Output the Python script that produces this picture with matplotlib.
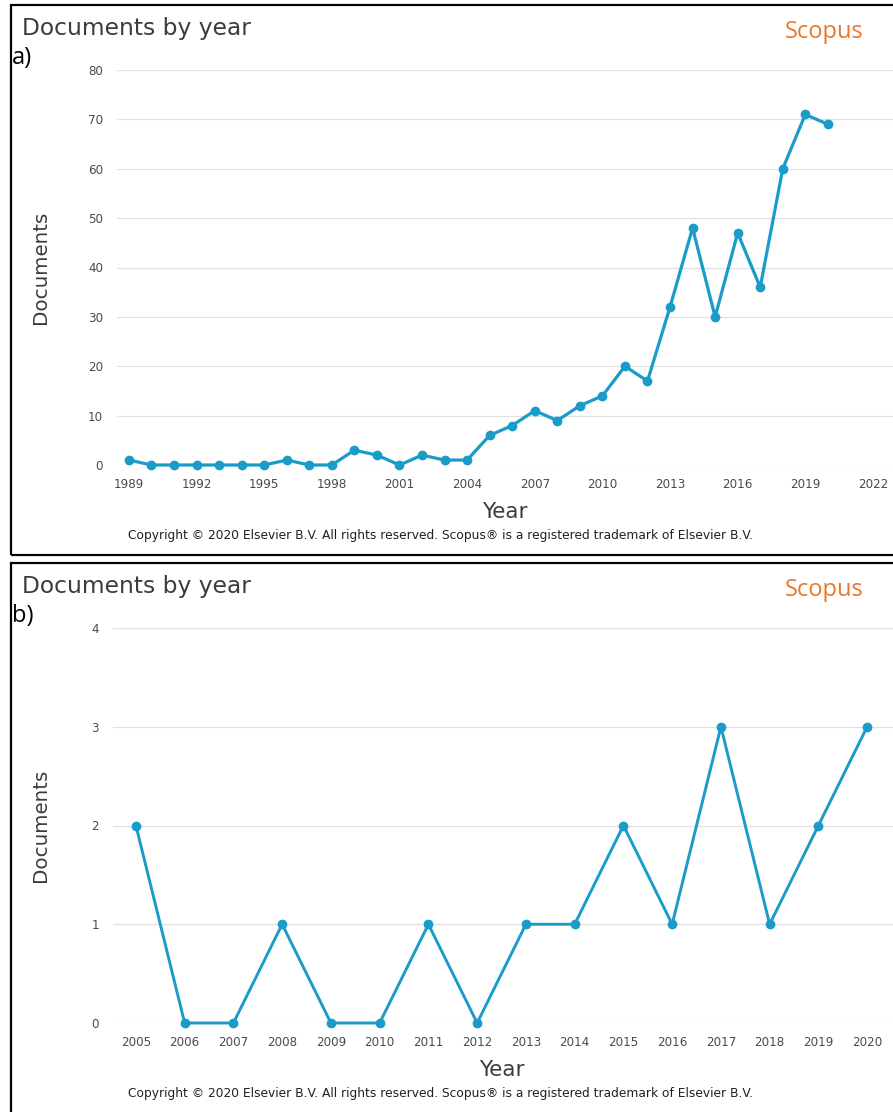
import matplotlib
matplotlib.use("Agg")
import matplotlib.pyplot as plt
from matplotlib.patches import Rectangle

# Scopus "Documents by year" exports for two searches
years_a = list(range(1989, 2021))
docs_a = [1, 0, 0, 0, 0, 0, 0, 1, 0, 0, 3, 2, 0, 2, 1, 1,
          6, 8, 11, 9, 12, 14, 20, 17, 32, 48, 30, 47, 36, 60, 71, 69]
xticks_a = [1989, 1992, 1995, 1998, 2001, 2004, 2007, 2010, 2013, 2016, 2019, 2022]
yticks_a = [0, 10, 20, 30, 40, 50, 60, 70, 80]

years_b = ["2005", "2006", "2007", "2008", "2009", "2010", "2011", "2012",
           "2013", "2014", "2015", "2016", "2017", "2018", "2019", "2020"]
docs_b = [2, 0, 0, 1, 0, 0, 1, 0, 1, 1, 2, 1, 3, 1, 2, 3]
yticks_b = [0, 1, 2, 3, 4]

COPYRIGHT = ("Copyright \u00a9 2020 Elsevier B.V. All rights reserved. "
             "Scopus\u00ae is a registered trademark of Elsevier B.V.")

LINE = "#1a9bc8"
GRID = "#e0e0e0"
TICK = "#4a4a4a"
TEXT = "#3c3c3c"
ORANGE = "#e8782a"

W, H = 893, 1112
fig = plt.figure(figsize=(W / 100, H / 100), dpi=100)
fig.patch.set_facecolor("white")


def fx(px):
    return px / W


def fy(py):
    return 1 - py / H


def frame(top, bottom):
    fig.patches.append(Rectangle((fx(10.5), fy(bottom)), fx(W + 5 - 10.5), fy(top) - fy(bottom),
                                 transform=fig.transFigure, fill=False,
                                 edgecolor="black", linewidth=1.6, zorder=0))


def header(top, label):
    fig.text(fx(22), fy(top + 23.5), "Documents by year", fontsize=16.8,
             color=TEXT, family="DejaVu Sans", va="center", ha="left")
    fig.text(fx(864), fy(top + 27), "Scopus", fontsize=17, color=ORANGE,
             family="Open Sans", va="center", ha="right")
    fig.text(fx(12), fy(top + 53), label, fontsize=17, color="black",
             family="Open Sans", va="center", ha="left")


def footer(cx, y_year, y_copy):
    fig.text(fx(cx), fy(y_year), "Year", fontsize=15.5, color=TEXT,
             va="center", ha="center")
    fig.text(fx(440), fy(y_copy), COPYRIGHT, fontsize=8.8, color="#202020",
             va="center", ha="center")


def style(ax):
    for s in ax.spines.values():
        s.set_visible(False)
    ax.grid(axis="y", color=GRID, linewidth=0.9)
    ax.set_axisbelow(True)
    ax.tick_params(length=0, labelsize=8.6, labelcolor=TICK, pad=9)
    ax.tick_params(axis="y", pad=10)
    ax.set_facecolor("none")


# ---- panel a ----
frame(5, 555)
header(5, "a)")
ax1 = fig.add_axes([fx(117), fy(465), fx(893 - 117), fy(70) - fy(465)])
style(ax1)
ax1.plot(years_a, docs_a, color=LINE, linewidth=2.3, marker="o",
         markersize=6, clip_on=False, zorder=3)
ax1.set_xlim(1988.47, 2022.89)
ax1.set_ylim(0, 80)
ax1.set_xticks(xticks_a)
ax1.set_yticks(yticks_a)
ax1.set_xticklabels([str(t) for t in xticks_a])
fig.text(fx(40), fy(267), "Documents", rotation=90, fontsize=14.3,
         color=TEXT, va="center", ha="center")
footer(505, 512, 535)

# ---- panel b ----
frame(563, H + 10)
header(563, "b)")
ax2 = fig.add_axes([fx(113), fy(1023), fx(893 - 113), fy(628) - fy(1023)])
style(ax2)
xb = list(range(len(years_b)))
ax2.plot(xb, docs_b, color=LINE, linewidth=2.1, marker="o",
         markersize=6, clip_on=False, zorder=3)
ax2.set_xlim(-0.47, 15.53)
ax2.set_ylim(0, 4)
ax2.set_xticks(xb)
ax2.set_xticklabels(years_b)
ax2.set_yticks(yticks_b)
fig.text(fx(40), fy(825), "Documents", rotation=90, fontsize=14.3,
         color=TEXT, va="center", ha="center")
footer(502, 1070, 1093)

fig.savefig("out.png", dpi=100, facecolor="white")
